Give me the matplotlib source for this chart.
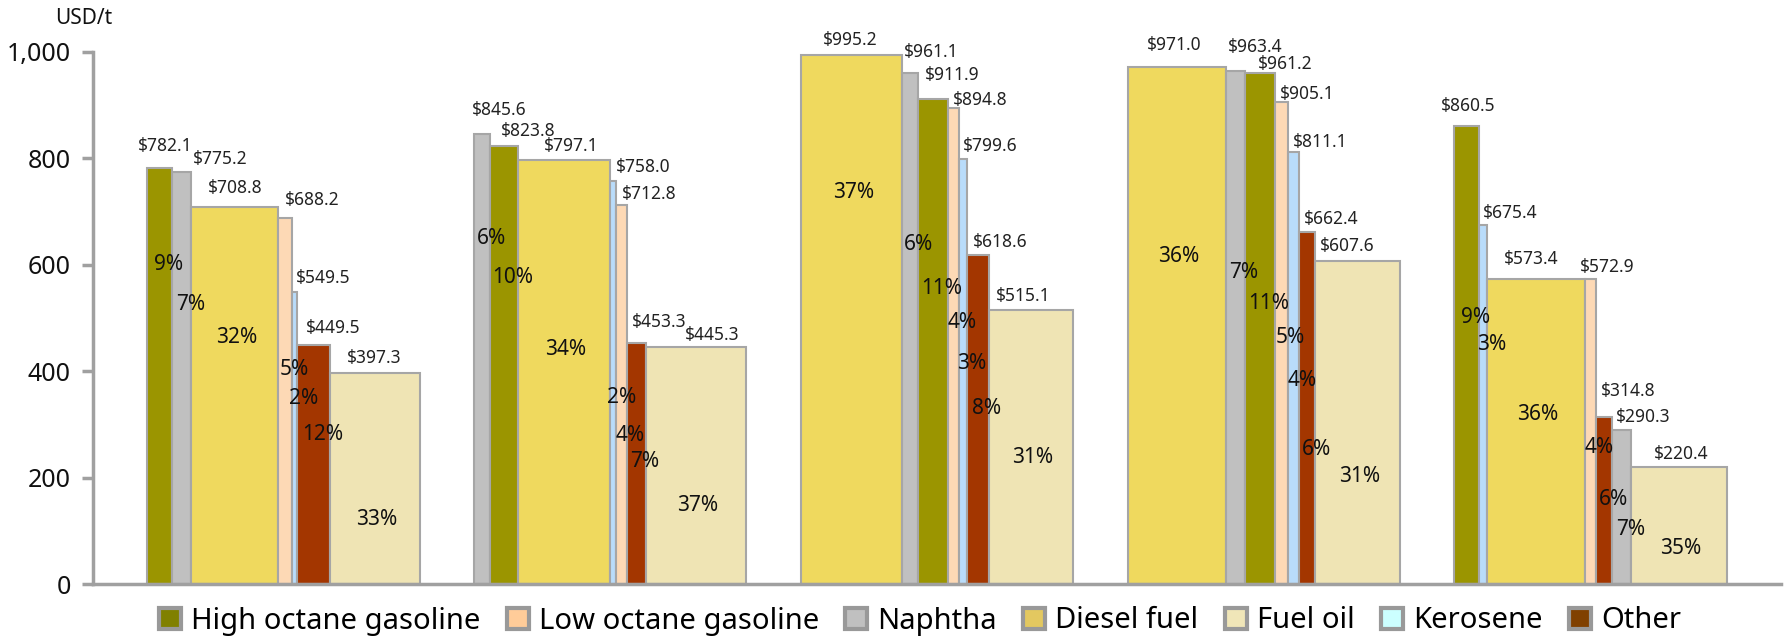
import matplotlib
matplotlib.use("Agg")
import matplotlib.pyplot as plt
from matplotlib.patches import Patch

plt.rcParams['font.family'] = ['Noto Sans', 'DejaVu Sans']

# ---------------- data ----------------
products = ['High octane gasoline', 'Low octane gasoline', 'Naphtha',
            'Diesel fuel', 'Fuel oil', 'Kerosene', 'Other']

# price (USD/t) per group, one list per product
price_ho = [782.1, 823.8, 911.9, 961.2, 860.5]
price_lo = [688.2, 712.8, 894.8, 905.1, 572.9]
price_naphtha = [775.2, 845.6, 961.1, 963.4, 290.3]
price_diesel = [708.8, 797.1, 995.2, 971.0, 573.4]
price_fueloil = [397.3, 445.3, 515.1, 607.6, 220.4]
price_kero = [549.5, 758.0, 799.6, 811.1, 675.4]
price_other = [449.5, 453.3, 618.6, 662.4, 314.8]

# share (%) per group
share_ho = [9, 10, 11, 11, 9]
share_lo = [5, 4, 4, 5, 4]
share_naphtha = [7, 6, 6, 7, 7]
share_diesel = [32, 34, 37, 36, 36]
share_fueloil = [33, 37, 31, 31, 35]
share_kero = [2, 2, 3, 4, 3]
share_other = [12, 7, 8, 6, 6]

prices = [price_ho, price_lo, price_naphtha, price_diesel, price_fueloil, price_kero, price_other]
shares = [share_ho, share_lo, share_naphtha, share_diesel, share_fueloil, share_kero, share_other]

# ---------------- styles / layout ----------------
bar_colors = ['#9B9500', '#FDD9B5', '#C0C0C0', '#EFD95E', '#EFE4B4', '#B9DCFA', '#A33600']
legend_colors = ['#808000', '#FFCC99', '#C0C0C0', '#E3C860', '#F0E6B8', '#CCFFFF', '#804000']
edge = '#A6A6A6'
n_groups = 5
group_step = 120  # 100 units of width + 20 gap

# value label offsets (pixels) per group, in display (price-sorted) order
val_dx = [[5, 39, 1, 27, 29, 20, -1],
          [17, 24, 7, 30, 28, 23, 16],
          [-1.5, 21, 19, 27, 27, 22, -8],
          [-2, 20, 26, 26, 27, 24, -10],
          [2, 27, -5, 17, 24, 21, 2]]
val_dy = [[22, 13, 18.5, 18, 14, 17, 15],
          [24, 14.5, 14, 13.5, 11, 20.5, 12.5],
          [15, 20.5, 23.5, 8, 12.5, 13, 14],
          [22.5, 24.5, 9, 8, 10, 13, 15],
          [20, 12, 19.5, 12.5, 25.5, 13, 13]]
# percent label heights (data units) per group, display order
pct_y = [[601, 526, 463, 403, 349, 281, 121],
         [650, 576, 440, 350, 279, 231, 147],
         [736, 638, 556, 491, 414, 330, 237],
         [616, 586, 528, 463, 383, 252, 202],
         [501, 450, 319, 257, 158, 102, 67]]

fig = plt.figure(figsize=(17.84, 6.41), dpi=100)
ax = fig.add_axes([93 / 1784, 1 - 584 / 641, (1781 - 93) / 1784, (584 - 52) / 641])

for g in range(n_groups):
    order = sorted(range(len(products)), key=lambda i: -prices[i][g])
    left = g * group_step
    for k, i in enumerate(order):
        p = prices[i][g]
        w = shares[i][g]
        ax.bar(left, p, width=w, align='edge', color=bar_colors[i],
               edgecolor=edge, linewidth=1.5, zorder=2)
        cx = left + w / 2
        ax.annotate(f'${p:,.1f}', xy=(cx, p), xytext=(val_dx[g][k], val_dy[g][k]),
                    textcoords='offset pixels', ha='center', va='center',
                    fontsize=12.5, color='#222222', zorder=4)
        pdx = 9 if w < 20 else 2
        ax.annotate(f'{w}%', xy=(cx, pct_y[g][k]), xytext=(pdx, 0),
                    textcoords='offset pixels', ha='center', va='center',
                    fontsize=15, color='#111111', zorder=4)
        left += w

ax.set_xlim(-20, 600)
ax.set_ylim(0, 1000)
ax.set_yticks([0, 200, 400, 600, 800, 1000])
ax.set_yticklabels(['0', '200', '400', '600', '800', '1,000'])
ax.set_xticks([])
for s in ['top', 'right']:
    ax.spines[s].set_visible(False)
for s in ['left', 'bottom']:
    ax.spines[s].set_color('#A0A0A0')
    ax.spines[s].set_linewidth(2.5)
ax.tick_params(axis='y', length=8, width=2.5, color='#A0A0A0', labelsize=18,
               pad=8, labelcolor='#111111')

fig.text(84 / 1784, 1 - 18 / 641, 'USD/t', ha='center', va='center', fontsize=15, color='#111111')

handles = [Patch(facecolor=c, edgecolor='#999999', linewidth=3) for c in legend_colors]
fig.legend(handles, products, loc='center', bbox_to_anchor=(920 / 1784, 1 - 621 / 641),
           ncol=7, frameon=False, fontsize=21, handlelength=0.75, handleheight=0.75,
           handletextpad=0.35, columnspacing=0.9, borderpad=0)

fig.savefig('out.png', dpi=100)
